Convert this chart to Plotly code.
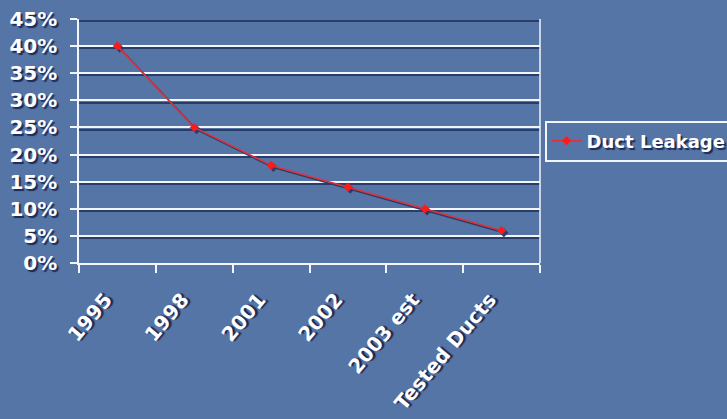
import plotly.graph_objects as go

categories = ["1995", "1998", "2001", "2002", "2003 est", "Tested Ducts"]
duct_leakage = [40, 25, 18, 14, 10, 6]
series_name = "Duct Leakage"

BG = "#5675a7"
WHITE = "#f2f5fb"
DARK = "#2a3d68"
SHADOW = "2px 2px 1px #1b2b55"
FONT = "DejaVu Sans, Verdana, sans-serif"

YMAX = 45
n = len(categories)
xr = [-0.5, n - 0.5]
dx = 0.03   # shadow offset (category units)
dy = 0.4    # shadow offset (percent units)

fig = go.Figure()
# drop shadow of the series
fig.add_trace(go.Scatter(
    x=categories, y=duct_leakage, xaxis="x2", yaxis="y2", mode="lines+markers",
    line=dict(color=DARK, width=1.6), marker=dict(symbol="diamond", size=7, color=DARK),
    showlegend=False, hoverinfo="skip",
))
fig.add_trace(go.Scatter(
    x=categories, y=duct_leakage, name=series_name, mode="lines+markers",
    xaxis="x3", yaxis="y3",
    line=dict(color="#e0303c", width=1.6),
    marker=dict(symbol="diamond", size=7, color="#ff1a1a"),
))
fig.add_trace(go.Scatter(x=categories, y=[None] * n, showlegend=False, hoverinfo="skip"))

fig.update_layout(
    width=727, height=419,
    margin=dict(l=79, r=187, t=19, b=156, autoexpand=False),
    paper_bgcolor=BG, plot_bgcolor=BG,
    font=dict(family=FONT, color="white", weight="bold", shadow=SHADOW),
    showlegend=True,
    legend=dict(x=1.01, xanchor="left", y=0.5, yanchor="middle",
                bordercolor=WHITE, borderwidth=2, bgcolor="rgba(0,0,0,0)",
                font=dict(size=18, color="white", family=FONT, weight="bold", shadow=SHADOW),
                itemwidth=30),
    xaxis=dict(
        type="category", categoryarray=categories, range=xr,
        tickson="boundaries", ticks="outside", ticklen=8,
        tickcolor=WHITE, tickwidth=1.5, showgrid=False,
        showline=True, linecolor=WHITE, linewidth=2,
        tickangle=-50, ticklabelstandoff=15, ticklabelshift=-12,
        tickfont=dict(size=20, color="white", weight="bold", shadow=SHADOW),
    ),
    yaxis=dict(
        range=[0, YMAX], dtick=5, ticksuffix="%", ticks="outside", ticklen=7,
        tickcolor=WHITE, tickwidth=2, showgrid=True, gridcolor=WHITE, gridwidth=2,
        showline=True, linecolor=WHITE, linewidth=1.5, zeroline=False,
        ticklabelstandoff=9,
        tickfont=dict(size=20, color="white", weight="bold", shadow=SHADOW),
    ),
    xaxis2=dict(overlaying="x", type="category", categoryarray=categories,
                range=[xr[0] - dx, xr[1] - dx], visible=False),
    yaxis2=dict(overlaying="y", range=[dy, YMAX + dy], dtick=5, showgrid=True,
                gridcolor=DARK, gridwidth=1.5, showticklabels=False, ticks="",
                showline=False, zeroline=False),
    xaxis3=dict(overlaying="x", type="category", categoryarray=categories,
                range=xr, visible=False),
    yaxis3=dict(overlaying="y", range=[0, YMAX], visible=False),
)
# right border line
fig.add_shape(type="line", xref="paper", yref="paper", x0=1, x1=1, y0=0, y1=1,
              line=dict(color=WHITE, width=1.5))

fig.write_html("out.html")
